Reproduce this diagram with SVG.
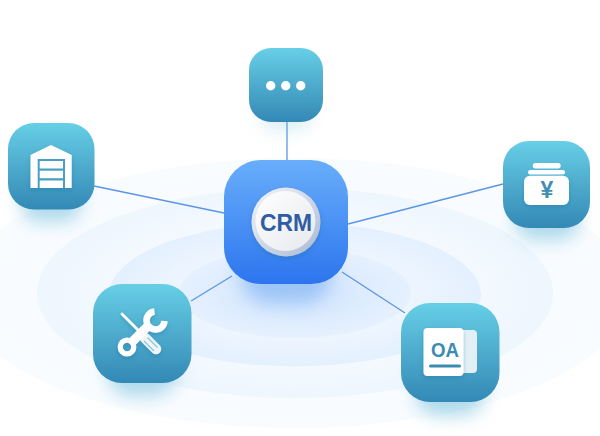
<svg xmlns="http://www.w3.org/2000/svg" width="600" height="436" viewBox="0 0 600 436">
<style>
.conn{stroke:#5c95e6;stroke-width:1.3;fill:none}
.w{fill:#fff}
.t{font-family:"Liberation Sans",Arial,sans-serif;font-weight:700}
</style>
<defs>
<linearGradient id="teal" x1="0" y1="0" x2="0" y2="1"><stop offset="0" stop-color="#66cfe6"/><stop offset=".5" stop-color="#4eabcd"/><stop offset="1" stop-color="#3389b6"/></linearGradient>
<linearGradient id="blue" x1="0" y1="0" x2="0" y2="1"><stop offset="0" stop-color="#69aefb"/><stop offset="1" stop-color="#2c75ee"/></linearGradient>
<linearGradient id="knob" x1="0" y1="0" x2="1" y2="1"><stop offset="0" stop-color="#ffffff"/><stop offset="1" stop-color="#e6e9ee"/></linearGradient>
<linearGradient id="rim" x1="0" y1="0" x2="1" y2="1"><stop offset="0" stop-color="#f4f7fb"/><stop offset="1" stop-color="#a9b8d2"/></linearGradient>
<radialGradient id="r1"><stop offset="0" stop-color="#f5faff"/><stop offset="1" stop-color="#f9fcff"/></radialGradient>
<radialGradient id="r2"><stop offset=".6" stop-color="#f5faff"/><stop offset="1" stop-color="#eef6fe"/></radialGradient>
<radialGradient id="r3"><stop offset=".5" stop-color="#f0f7ff"/><stop offset="1" stop-color="#e4f0fe"/></radialGradient>
<radialGradient id="r4"><stop offset=".2" stop-color="#d3e6fd"/><stop offset="1" stop-color="#e6f1fe"/></radialGradient>
<filter id="sh" x="-40%" y="-40%" width="180%" height="190%"><feGaussianBlur stdDeviation="9"/></filter>
<filter id="s2" x="-30%" y="-30%" width="160%" height="170%"><feDropShadow dx="0" dy="2" stdDeviation="2" flood-color="#1f6f95" flood-opacity=".35"/></filter>
</defs>
<rect width="600" height="436" fill="#fff"/>
<g id="ripples">
<ellipse cx="295" cy="293" rx="334" ry="135" fill="url(#r1)"/>
<ellipse cx="295" cy="293" rx="258" ry="105" fill="url(#r2)"/>
<ellipse cx="295" cy="294.500" rx="186" ry="72" fill="url(#r3)"/>
<ellipse cx="295" cy="293" rx="116" ry="45" fill="url(#r4)"/>
</g>
<g id="connectors">
<line class="conn" x1="287" y1="122" x2="287" y2="160"/>
<line class="conn" x1="94" y1="186" x2="224" y2="213"/>
<line class="conn" x1="503" y1="184" x2="348" y2="224"/>
<line class="conn" x1="191" y1="301" x2="232" y2="276"/>
<line class="conn" x1="342" y1="272" x2="405" y2="313"/>
</g>
<g id="node-more">
<rect x="262" y="92" width="48" height="38" rx="14" fill="#7fc3dc" opacity=".3" filter="url(#sh)"/>
<rect x="249" y="48" width="74" height="74" rx="22" fill="url(#teal)"/>
<circle class="w" cx="270.700" cy="85.700" r="4.700"/><circle class="w" cx="285.700" cy="85.700" r="4.700"/><circle class="w" cx="300.700" cy="85.700" r="4.700"/>
</g>
<g id="node-warehouse">
<rect x="20" y="170" width="62" height="52" rx="20" fill="#64b7d6" opacity=".5" filter="url(#sh)"/>
<rect x="8" y="123" width="86.500" height="86.500" rx="26" fill="url(#teal)"/>
<path class="w" d="M30.500 155 51 145 71.700 155V188H30.500Z" filter="url(#s2)"/>
<rect x="37.700" y="159" width="27.300" height="29" fill="#4a9fc5"/>
<rect class="w" x="39.700" y="161" width="23.300" height="7.500"/><rect class="w" x="39.700" y="170.700" width="23.300" height="7.500"/><rect class="w" x="39.700" y="180.500" width="23.300" height="7.500"/>
</g>
<g id="node-money">
<rect x="515" y="190" width="64" height="50" rx="20" fill="#64b7d6" opacity=".5" filter="url(#sh)"/>
<rect x="503" y="141" width="87" height="87" rx="26" fill="url(#teal)"/>
<rect class="w" x="532.700" y="163" width="28" height="5.500" rx="2.700"/>
<rect class="w" x="528" y="170" width="37" height="4.500" rx="2.200"/>
<rect class="w" x="524" y="175.700" width="45" height="29.300" rx="6" filter="url(#s2)"/>
<text class="t" x="547" y="198" font-size="23" fill="#3f8fb4" text-anchor="middle">¥</text>
</g>
<g id="node-tools">
<rect x="108" y="340" width="68" height="56" rx="22" fill="#64b7d6" opacity=".5" filter="url(#sh)"/>
<rect x="93" y="284" width="98.500" height="99" rx="29" fill="url(#teal)"/>
<g filter="url(#s2)">
<path d="M122 314 145 337" stroke="#fff" stroke-width="2.800" stroke-linecap="round" fill="none"/>
<path d="M145 338 156 349" stroke="#eef5f8" stroke-width="10.500" stroke-linecap="round" fill="none"/>
<path d="M144 341 154 351M147.500 337.500 157.500 347.500" stroke="#8fc2d6" stroke-width="1.200" fill="none"/>
<path d="M130 344 150 324" stroke="#fff" stroke-width="9" fill="none"/>
<circle cx="127" cy="347" r="6.800" fill="none" stroke="#fff" stroke-width="5.200"/>
<path d="M154.500 311.500A9 9 0 1 0 164.500 321" stroke="#fff" stroke-width="6.500" fill="none"/>
</g>
</g>
<g id="node-oa">
<rect x="416" y="360" width="68" height="56" rx="22" fill="#64b7d6" opacity=".5" filter="url(#sh)"/>
<rect x="401" y="303" width="98.500" height="99" rx="29" fill="url(#teal)"/>
<rect x="450" y="330" width="27" height="43" rx="4" fill="#e2f0f5"/>
<rect class="w" x="423.500" y="328" width="40" height="48" rx="4" filter="url(#s2)"/>
<text class="t" x="431" y="357" font-size="21" fill="#3a8bb0" textLength="28" lengthAdjust="spacingAndGlyphs">OA</text>
<rect x="429" y="364.500" width="32" height="3" rx="1.500" fill="#3a8bb0"/>
</g>
<g id="node-crm">
<rect x="240" y="235" width="92" height="68" rx="30" fill="#5b9bf0" opacity=".45" filter="url(#sh)"/>
<rect x="224" y="160" width="124" height="124" rx="37" fill="url(#blue)"/>
<circle cx="286" cy="222" r="34.500" fill="url(#rim)" filter="url(#s2)"/>
<circle cx="285.500" cy="221" r="30" fill="url(#knob)"/>
<text class="t" x="260" y="231" font-size="24.500" fill="#2f5da5" textLength="52" lengthAdjust="spacingAndGlyphs">CRM</text>
</g>
</svg>
